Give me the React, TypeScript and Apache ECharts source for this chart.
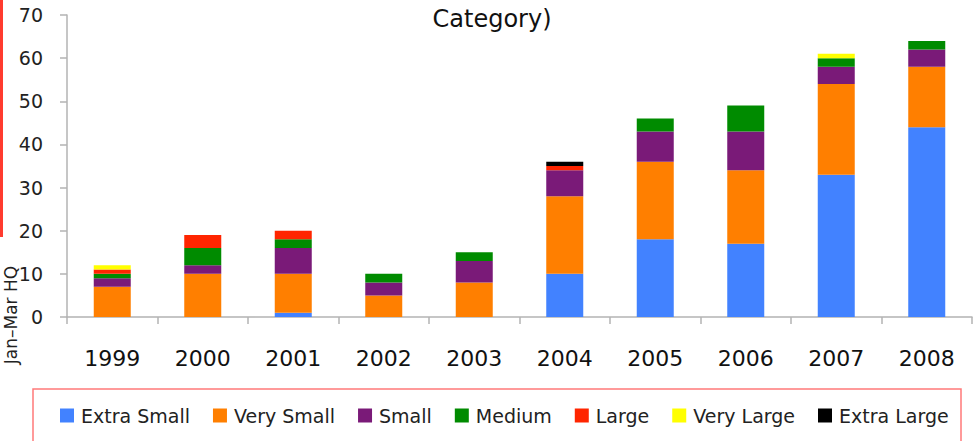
import React, { useEffect, useRef } from "react";
import * as echarts from "echarts";

const years = ["1999", "2000", "2001", "2002", "2003", "2004", "2005", "2006", "2007", "2008"];
const seriesNames = ["Extra Small", "Very Small", "Small", "Medium", "Large", "Very Large", "Extra Large"];
const extraSmall = [0, 0, 1, 0, 0, 10, 18, 17, 33, 44];
const verySmall = [7, 10, 9, 5, 8, 18, 18, 17, 21, 14];
const small = [2, 2, 6, 3, 5, 6, 7, 9, 4, 4];
const medium = [1, 4, 2, 2, 2, 0, 3, 6, 2, 2];
const large = [1, 3, 2, 0, 0, 1, 0, 0, 0, 0];
const veryLarge = [1, 0, 0, 0, 0, 0, 0, 0, 1, 0];
const extraLarge = [0, 0, 0, 0, 0, 1, 0, 0, 0, 0];
const seriesValues = [extraSmall, verySmall, small, medium, large, veryLarge, extraLarge];
const colors = ["#4282FF", "#FF7F00", "#7A1A78", "#008B00", "#FF2500", "#FFFF00", "#000000"];
const titleText = "Category)";
const yAxisName = "Jan–Mar HQ";

const FONT = "'DejaVu Sans', sans-serif";

export default function App() {
  const ref = useRef<HTMLDivElement>(null);
  useEffect(() => {
    document.body.style.margin = "0";
    const chart = echarts.init(ref.current!, undefined, { renderer: "svg" });
    chart.setOption({
      animation: false,
      backgroundColor: "#ffffff",
      grid: { left: 67, right: 6, top: 15, bottom: 124, containLabel: false },
      legend: {
        data: seriesNames,
        left: 55,
        top: 401,
        itemWidth: 14,
        itemHeight: 14,
        itemGap: 23,
        icon: "rect",
        selectedMode: false,
        textStyle: { fontFamily: FONT, fontSize: 19, color: "#222", padding: [0, 0, 0, 2] },
      },
      xAxis: {
        type: "category",
        data: years,
        axisLine: { lineStyle: { color: "#b3b3b3", width: 1.5 } },
        axisTick: { show: true, length: 7, lineStyle: { color: "#b3b3b3", width: 1.5 } },
        axisLabel: { fontFamily: FONT, fontSize: 22, color: "#111", margin: 30 },
      },
      yAxis: {
        type: "value",
        min: 0,
        max: 70,
        interval: 10,
        axisLine: { show: true, lineStyle: { color: "#b3b3b3", width: 1.5 } },
        axisTick: { show: true, length: 7, lineStyle: { color: "#b3b3b3", width: 1.5 } },
        splitLine: { show: false },
        axisLabel: { fontFamily: FONT, fontSize: 19, color: "#222", margin: 24 },
      },
      series: seriesNames.map((name, i) => ({
        name,
        type: "bar",
        stack: "total",
        barWidth: 37,
        data: seriesValues[i],
        itemStyle: { color: colors[i] },
      })),
      graphic: [
        {
          type: "rect",
          shape: { x: 0, y: 0, width: 3, height: 237 },
          style: { fill: "#ff3b2f" },
        },
        {
          type: "text",
          x: 492,
          y: 19,
          style: {
            text: titleText,
            font: `24px ${FONT}`,
            fill: "#111",
            align: "center",
            verticalAlign: "middle",
          },
        },
        {
          type: "text",
          x: 11,
          y: 315,
          rotation: Math.PI / 2,
          style: {
            text: yAxisName,
            font: `17px ${FONT}`,
            fill: "#222",
            align: "center",
            verticalAlign: "middle",
          },
        },
        {
          type: "rect",
          shape: { x: 33, y: 389, width: 928, height: 70 },
          style: { fill: "none", stroke: "#ff7a7a", lineWidth: 1.5 },
        },
      ],
    });
    return () => chart.dispose();
  }, []);
  return <div ref={ref} style={{ width: 978, height: 441 }} />;
}
